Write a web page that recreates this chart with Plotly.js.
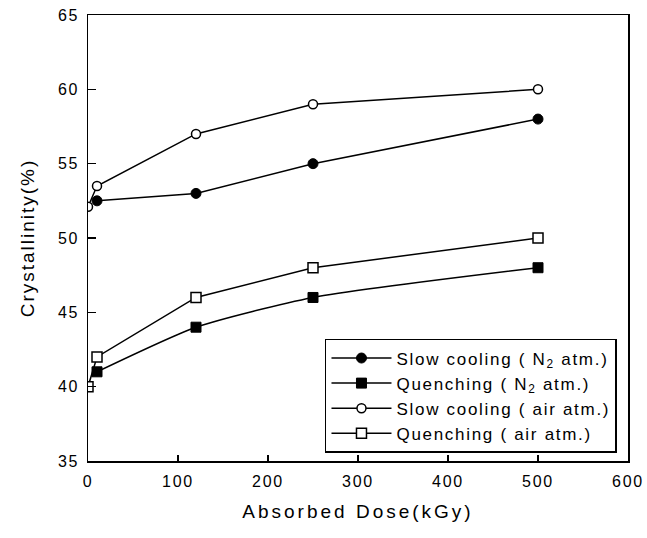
<!DOCTYPE html>
<html>
<head>
<meta charset="utf-8">
<script src="https://cdn.plot.ly/plotly-3.0.1.min.js"></script>
<style>
html,body{margin:0;padding:0;background:#fff;}
#chart{width:647px;height:538px;}
.xtick text, .ytick text {letter-spacing: 1.8px;}
.legendtext {letter-spacing: 1.7px;}
.xtitle {letter-spacing: 3px;}
.ytitle {letter-spacing: 2px;}
</style>
</head>
<body>
<div id="chart"></div>
<script>
// Data
const doseSlowN2 = [10, 120, 250, 500];
const crystSlowN2 = [52.5, 53.0, 55.0, 58.0];

const doseQuenchN2 = [10, 120, 250, 500];
const crystQuenchN2 = [41.0, 44.0, 46.0, 48.0];

const doseSlowAir = [0, 10, 120, 250, 500];
const crystSlowAir = [52.1, 53.5, 57.0, 59.0, 60.0];

const doseQuenchAir = [0, 10, 120, 250, 500];
const crystQuenchAir = [40.0, 42.0, 46.0, 48.0, 50.0];

const seriesNames = [
  'Slow cooling ( N<sub>2</sub> atm.)',
  'Quenching ( N<sub>2</sub> atm.)',
  'Slow cooling ( air atm.)',
  'Quenching ( air atm.)'
];
const xTicks = [0, 100, 200, 300, 400, 500, 600];
const yTicks = [35, 40, 45, 50, 55, 60, 65];

const FONT = 'Liberation Sans, Arial, sans-serif';
const lineStyle = {color: 'black', width: 1.5};

const traces = [
  {x: doseSlowN2, y: crystSlowN2, name: seriesNames[0], mode: 'lines+markers', line: lineStyle,
   marker: {symbol: 'circle', size: 10, color: 'black', line: {color: 'black', width: 1}}},
  {x: doseQuenchN2, y: crystQuenchN2, name: seriesNames[1], mode: 'lines+markers',
   line: {color: 'black', width: 1.5, shape: 'spline', smoothing: 0.6},
   marker: {symbol: 'square', size: 10, color: 'black', line: {color: 'black', width: 1}}},
  {x: doseSlowAir, y: crystSlowAir, name: seriesNames[2], mode: 'lines+markers', line: lineStyle,
   marker: {symbol: 'circle', size: 9, color: 'white', line: {color: 'black', width: 1.5}}},
  {x: doseQuenchAir, y: crystQuenchAir, name: seriesNames[3], mode: 'lines+markers', line: lineStyle,
   marker: {symbol: 'square', size: 10, color: 'white', line: {color: 'black', width: 1.5}}}
];

const layout = {
  width: 647, height: 538,
  margin: {l: 88, r: 19, t: 15, b: 77},
  paper_bgcolor: 'white', plot_bgcolor: 'white',
  font: {family: FONT, size: 16, color: 'black'},
  showlegend: true,
  legend: {
    x: 0.9796, xanchor: 'right', y: 0.018, yanchor: 'bottom',
    bgcolor: 'white', bordercolor: 'black', borderwidth: 1.5,
    font: {family: FONT, size: 17, color: 'black'},
    itemwidth: 60,
    tracegroupgap: 0
  },
  xaxis: {
    range: [0, 600], tickvals: xTicks, ticktext: xTicks.map(String),
    ticks: 'inside', ticklen: 6, tickwidth: 1.5, tickcolor: 'black',
    showline: true, linecolor: 'black', linewidth: 1.5, mirror: true,
    showgrid: false, zeroline: false, ticklabelstandoff: 5,
    tickfont: {family: FONT, size: 16, color: 'black'},
    title: {text: 'Absorbed Dose(kGy)', font: {family: FONT, size: 19, color: 'black'}, standoff: 16}
  },
  yaxis: {
    range: [35, 65], tickvals: yTicks, ticktext: yTicks.map(String),
    ticks: 'inside', ticklen: 8, tickwidth: 1.5, tickcolor: 'black',
    showline: true, linecolor: 'black', linewidth: 1.5, mirror: true,
    showgrid: false, zeroline: false, ticklabelstandoff: 4,
    tickfont: {family: FONT, size: 16, color: 'black'},
    title: {text: '\u00a0\u00a0\u00a0Crystallinity(%)', font: {family: FONT, size: 19, color: 'black'}, standoff: 18}
  }
};

Plotly.newPlot('chart', traces, layout, {displayModeBar: false, staticPlot: true});
</script>
</body>
</html>
